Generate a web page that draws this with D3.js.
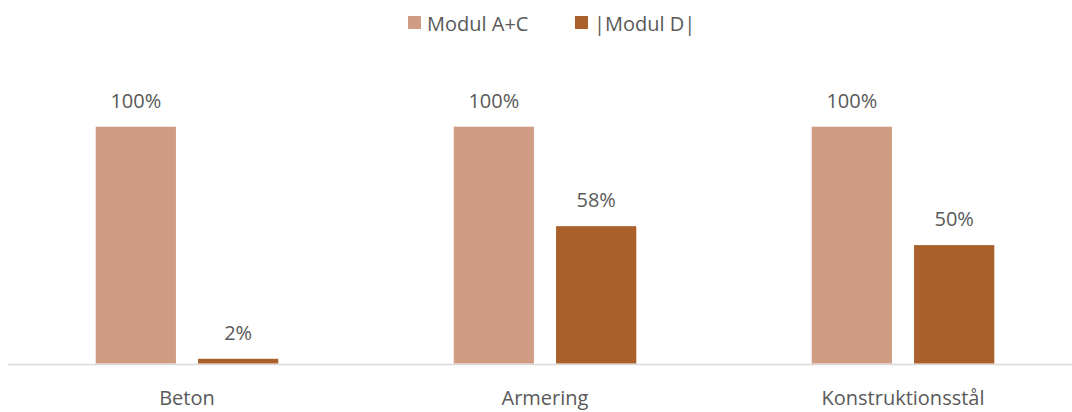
<!DOCTYPE html>
<html><head><meta charset="utf-8">
<script src="https://cdn.jsdelivr.net/npm/d3@7"></script>
<style>
html,body{margin:0;padding:0;background:#fff;}
svg{display:block;}
text{font-family:"Open Sans","Noto Sans",sans-serif;fill:#595959;}
</style></head>
<body>
<svg id="chart" width="1072" height="412"></svg>
<script>
const categories = ["Beton", "Armering", "Konstruktionsstål"];
const seriesNames = ["Modul A+C", "|Modul D|"];
const valuesAC = [1.00, 1.00, 1.00];
const valuesD = [0.02, 0.58, 0.50];
const colors = ["#D09C84", "#A9602B"];

const W = 1072, H = 412;
const svg = d3.select("#chart");
const fs = 20;

const x0 = d3.scaleBand().domain(categories).range([8, 1082]).paddingInner(0.49).paddingOuter(0.245);
const x1 = d3.scaleBand().domain(seriesNames).range([0, x0.bandwidth()]).paddingInner(0.216);
const y = d3.scaleLinear().domain([0, 1]).range([363.5, 126.7]);

const data = categories.map((c, i) => ({cat: c, vals: [valuesAC[i], valuesD[i]]}));

// baseline
svg.append("line").attr("x1", 8).attr("x2", W).attr("y1", 364.5).attr("y2", 364.5)
  .attr("stroke", "#d9d9d9").attr("stroke-width", 1.3);

const g = svg.selectAll("g.cat").data(data).enter().append("g")
  .attr("transform", d => `translate(${x0(d.cat)},0)`);

g.selectAll("rect").data(d => d.vals.map((v, j) => ({name: seriesNames[j], v, j})))
  .enter().append("rect")
  .attr("x", d => x1(d.name)).attr("width", x1.bandwidth())
  .attr("y", d => y(d.v)).attr("height", d => y(0) - y(d.v))
  .attr("fill", d => colors[d.j]);

g.selectAll("text.val").data(d => d.vals.map((v, j) => ({name: seriesNames[j], v, j})))
  .enter().append("text").attr("class", "val")
  .attr("x", d => x1(d.name) + x1.bandwidth() / 2)
  .attr("y", d => y(d.v) - 19)
  .attr("text-anchor", "middle").attr("font-size", fs)
  .text(d => Math.round(d.v * 100) + "%");

// category axis labels
svg.selectAll("text.cat").data(categories).enter().append("text").attr("class", "cat")
  .attr("x", d => x0(d) + x0.bandwidth() / 2).attr("y", 405)
  .attr("text-anchor", "middle").attr("font-size", fs)
  .text(d => d);

// legend
const legendX = [408, 575];
const lg = svg.selectAll("g.leg").data(seriesNames).enter().append("g")
  .attr("transform", (d, i) => `translate(${legendX[i]},0)`);
lg.append("rect").attr("x", 0).attr("y", 16).attr("width", 13).attr("height", 13)
  .attr("fill", (d, i) => colors[i]);
lg.append("text").attr("x", 19).attr("y", 31).attr("font-size", fs).text(d => d);
</script>
</body></html>
